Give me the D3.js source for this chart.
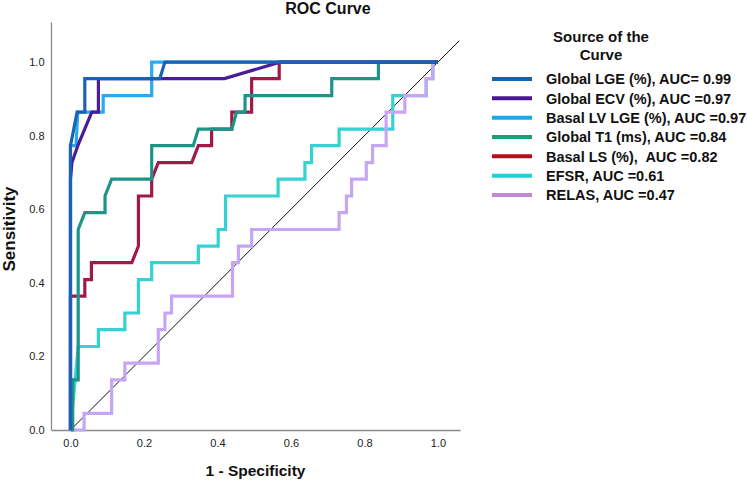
<!DOCTYPE html>
<html>
<head>
<meta charset="utf-8">
<script src="https://cdn.jsdelivr.net/npm/d3@7"></script>
<style>
  html, body { margin: 0; padding: 0; background: #ffffff; }
  svg { display: block; font-family: "Liberation Sans", Arial, sans-serif; }
</style>
</head>
<body>
<svg id="chart" width="747" height="481"></svg>
<script>
// ---------- DATA (1 - Specificity, Sensitivity) ----------
const seriesNames = ["Global LGE", "Global ECV", "Basal LV LGE", "Global T1", "Basal LS", "EFSR", "RELAS"];
const legendLabels = [
  "Global LGE (%), AUC= 0.99",
  "Global ECV (%), AUC =0.97",
  "Basal LV LGE (%), AUC =0.97",
  "Global T1 (ms), AUC =0.84",
  "Basal LS (%),  AUC =0.82",
  "EFSR, AUC =0.61",
  "RELAS, AUC =0.47"
];
const xTicks = [0.0, 0.2, 0.4, 0.6, 0.8, 1.0];
const yTicks = [0.0, 0.2, 0.4, 0.6, 0.8, 1.0];

const globalLgeFpr = [0, 0, 0.018, 0.039, 0.039, 0.243, 0.257, 1];
const globalLgeTpr = [0, 0.773, 0.864, 0.864, 0.955, 0.955, 1, 1];

const globalEcvFpr = [0, 0, 0.004, 0.02, 0.058, 0.076, 0.076, 0.419, 0.570, 1];
const globalEcvTpr = [0, 0.682, 0.727, 0.773, 0.864, 0.864, 0.955, 0.955, 1, 1];

const basalLvLgeFpr = [0, 0, 0.015, 0.02, 0.089, 0.089, 0.221, 0.221, 1];
const basalLvLgeTpr = [0, 0.773, 0.773, 0.864, 0.864, 0.909, 0.909, 1, 1];

const globalT1Fpr = [0, 0.006, 0.006, 0.021, 0.021, 0.039, 0.094, 0.094, 0.112, 0.221, 0.221, 0.334, 0.348, 0.439, 0.452, 0.475, 0.475, 0.711, 0.711, 0.838, 0.838, 1];
const globalT1Tpr = [0, 0, 0.136, 0.136, 0.545, 0.591, 0.591, 0.636, 0.682, 0.682, 0.773, 0.773, 0.818, 0.818, 0.864, 0.864, 0.909, 0.909, 0.955, 0.955, 1, 1];

const basalLsFpr = [0, 0, 0.039, 0.039, 0.057, 0.057, 0.167, 0.185, 0.185, 0.221, 0.221, 0.239, 0.330, 0.348, 0.384, 0.384, 0.439, 0.439, 0.493, 0.493, 0.568, 0.568, 1];
const basalLsTpr = [0, 0.364, 0.364, 0.409, 0.409, 0.455, 0.455, 0.5, 0.636, 0.636, 0.682, 0.727, 0.727, 0.773, 0.773, 0.818, 0.818, 0.864, 0.864, 0.955, 0.955, 1, 1];

const efsrFpr = [0, 0.021, 0.076, 0.076, 0.148, 0.148, 0.185, 0.185, 0.221, 0.221, 0.348, 0.348, 0.402, 0.402, 0.422, 0.422, 0.565, 0.565, 0.638, 0.638, 0.656, 0.656, 0.731, 0.731, 0.877, 0.877, 0.968, 0.968, 0.986, 0.986, 1];
const efsrTpr = [0, 0.227, 0.227, 0.273, 0.273, 0.318, 0.318, 0.409, 0.409, 0.455, 0.455, 0.5, 0.5, 0.545, 0.545, 0.636, 0.636, 0.682, 0.682, 0.727, 0.727, 0.773, 0.773, 0.818, 0.818, 0.909, 0.909, 0.955, 0.955, 1, 1];

const relasFpr = [0, 0.037, 0.037, 0.112, 0.112, 0.148, 0.148, 0.239, 0.239, 0.257, 0.257, 0.275, 0.275, 0.441, 0.441, 0.457, 0.457, 0.493, 0.493, 0.731, 0.731, 0.751, 0.751, 0.765, 0.765, 0.805, 0.805, 0.822, 0.822, 0.859, 0.859, 0.910, 0.910, 0.968, 0.968, 0.986, 0.986, 1];
const relasTpr = [0, 0, 0.045, 0.045, 0.136, 0.136, 0.182, 0.182, 0.273, 0.273, 0.318, 0.318, 0.364, 0.364, 0.455, 0.455, 0.5, 0.5, 0.545, 0.545, 0.591, 0.591, 0.636, 0.636, 0.682, 0.682, 0.727, 0.727, 0.773, 0.773, 0.864, 0.864, 0.909, 0.909, 0.955, 0.955, 1, 1];

const referenceLine = [0, 1.058];

// ---------- STYLES ----------
const lineColors = ["#1c62b4", "#4a1c98", "#2aa9ee", "#1c9588", "#a3184a", "#34d2d2", "#c6a6f4"];
const legendColors = ["#1a60a8", "#4c1592", "#1ea8e8", "#18a07c", "#b40e1c", "#22d0d8", "#c08ad8"];
const drawOrder = [5, 6, 4, 3, 2, 1, 0];

const fprs = [globalLgeFpr, globalEcvFpr, basalLvLgeFpr, globalT1Fpr, basalLsFpr, efsrFpr, relasFpr];
const tprs = [globalLgeTpr, globalEcvTpr, basalLvLgeTpr, globalT1Tpr, basalLsTpr, efsrTpr, relasTpr];
const series = seriesNames.map((n, i) => ({
  name: n, label: legendLabels[i], color: lineColors[i], lcolor: legendColors[i],
  pts: fprs[i].map((f, j) => [f, tprs[i][j]])
}));

const svg = d3.select("#chart");
svg.append("rect").attr("width", 747).attr("height", 481).attr("fill", "#fff");

const x = d3.scaleLinear().domain([-0.053, 1.06]).range([51, 460]);
const y = d3.scaleLinear().domain([0, 1.109]).range([430, 22]);

// axes
const xAxis = d3.axisBottom(x).tickValues(xTicks).tickFormat(d3.format(".1f")).tickSizeInner(0).tickSizeOuter(0).tickPadding(9);
const yAxis = d3.axisLeft(y).tickValues(yTicks).tickFormat(d3.format(".1f")).tickSizeInner(0).tickSizeOuter(0).tickPadding(6.5);

const gx = svg.append("g").attr("transform", `translate(0,${y(0)})`).call(xAxis);
const gy = svg.append("g").attr("transform", `translate(${x(-0.053)},0)`).call(yAxis);
[gx, gy].forEach(g => {
  g.select(".domain").attr("stroke", "#8a8a8a").attr("stroke-width", 1.3);
  g.selectAll("text").attr("font-size", "11px").attr("fill", "#222")
   .attr("font-family", "'Liberation Sans', Arial, sans-serif");
});

// reference diagonal
svg.append("line")
  .attr("x1", x(referenceLine[0])).attr("y1", y(referenceLine[0]))
  .attr("x2", x(referenceLine[1])).attr("y2", y(referenceLine[1]))
  .attr("stroke", "#111").attr("stroke-width", 1);

// curves
const line = d3.line().x(d => x(d[0])).y(d => y(d[1]));
const gCurves = svg.append("g");
drawOrder.forEach(i => {
  gCurves.append("path")
    .attr("d", line(series[i].pts))
    .attr("fill", "none")
    .attr("stroke", series[i].color)
    .attr("stroke-width", 3.2)
    .attr("stroke-linejoin", "miter")
    .attr("stroke-linecap", "butt");
});

// titles
svg.append("text").attr("x", 328).attr("y", 13.5).attr("text-anchor", "middle")
  .attr("font-size", "16px").attr("font-weight", "bold").attr("fill", "#111").text("ROC Curve");
svg.append("text").attr("x", 255.5).attr("y", 476).attr("text-anchor", "middle")
  .attr("font-size", "15.5px").attr("font-weight", "bold").attr("fill", "#111").text("1 - Specificity");
svg.append("text").attr("transform", "translate(14.5,229) rotate(-90)").attr("text-anchor", "middle")
  .attr("font-size", "17px").attr("font-weight", "bold").attr("fill", "#111").text("Sensitivity");

// legend
const lg = svg.append("g");
lg.append("text").attr("x", 601).attr("y", 42).attr("text-anchor", "middle")
  .attr("font-size", "15px").attr("font-weight", "bold").attr("fill", "#111").text("Source of the");
lg.append("text").attr("x", 601).attr("y", 59.5).attr("text-anchor", "middle")
  .attr("font-size", "15px").attr("font-weight", "bold").attr("fill", "#111").text("Curve");

const rowY = d3.scaleLinear().domain([0, 6]).range([79, 195]);
series.forEach((s, i) => {
  lg.append("line").attr("x1", 492).attr("x2", 532).attr("y1", rowY(i)).attr("y2", rowY(i))
    .attr("stroke", s.lcolor).attr("stroke-width", 4);
  lg.append("text").attr("x", 546).attr("y", rowY(i)).attr("dy", "0.36em")
    .attr("font-size", "14.5px").attr("font-weight", "bold").attr("fill", "#111")
    .style("white-space", "pre").text(s.label);
});
</script>
</body>
</html>
